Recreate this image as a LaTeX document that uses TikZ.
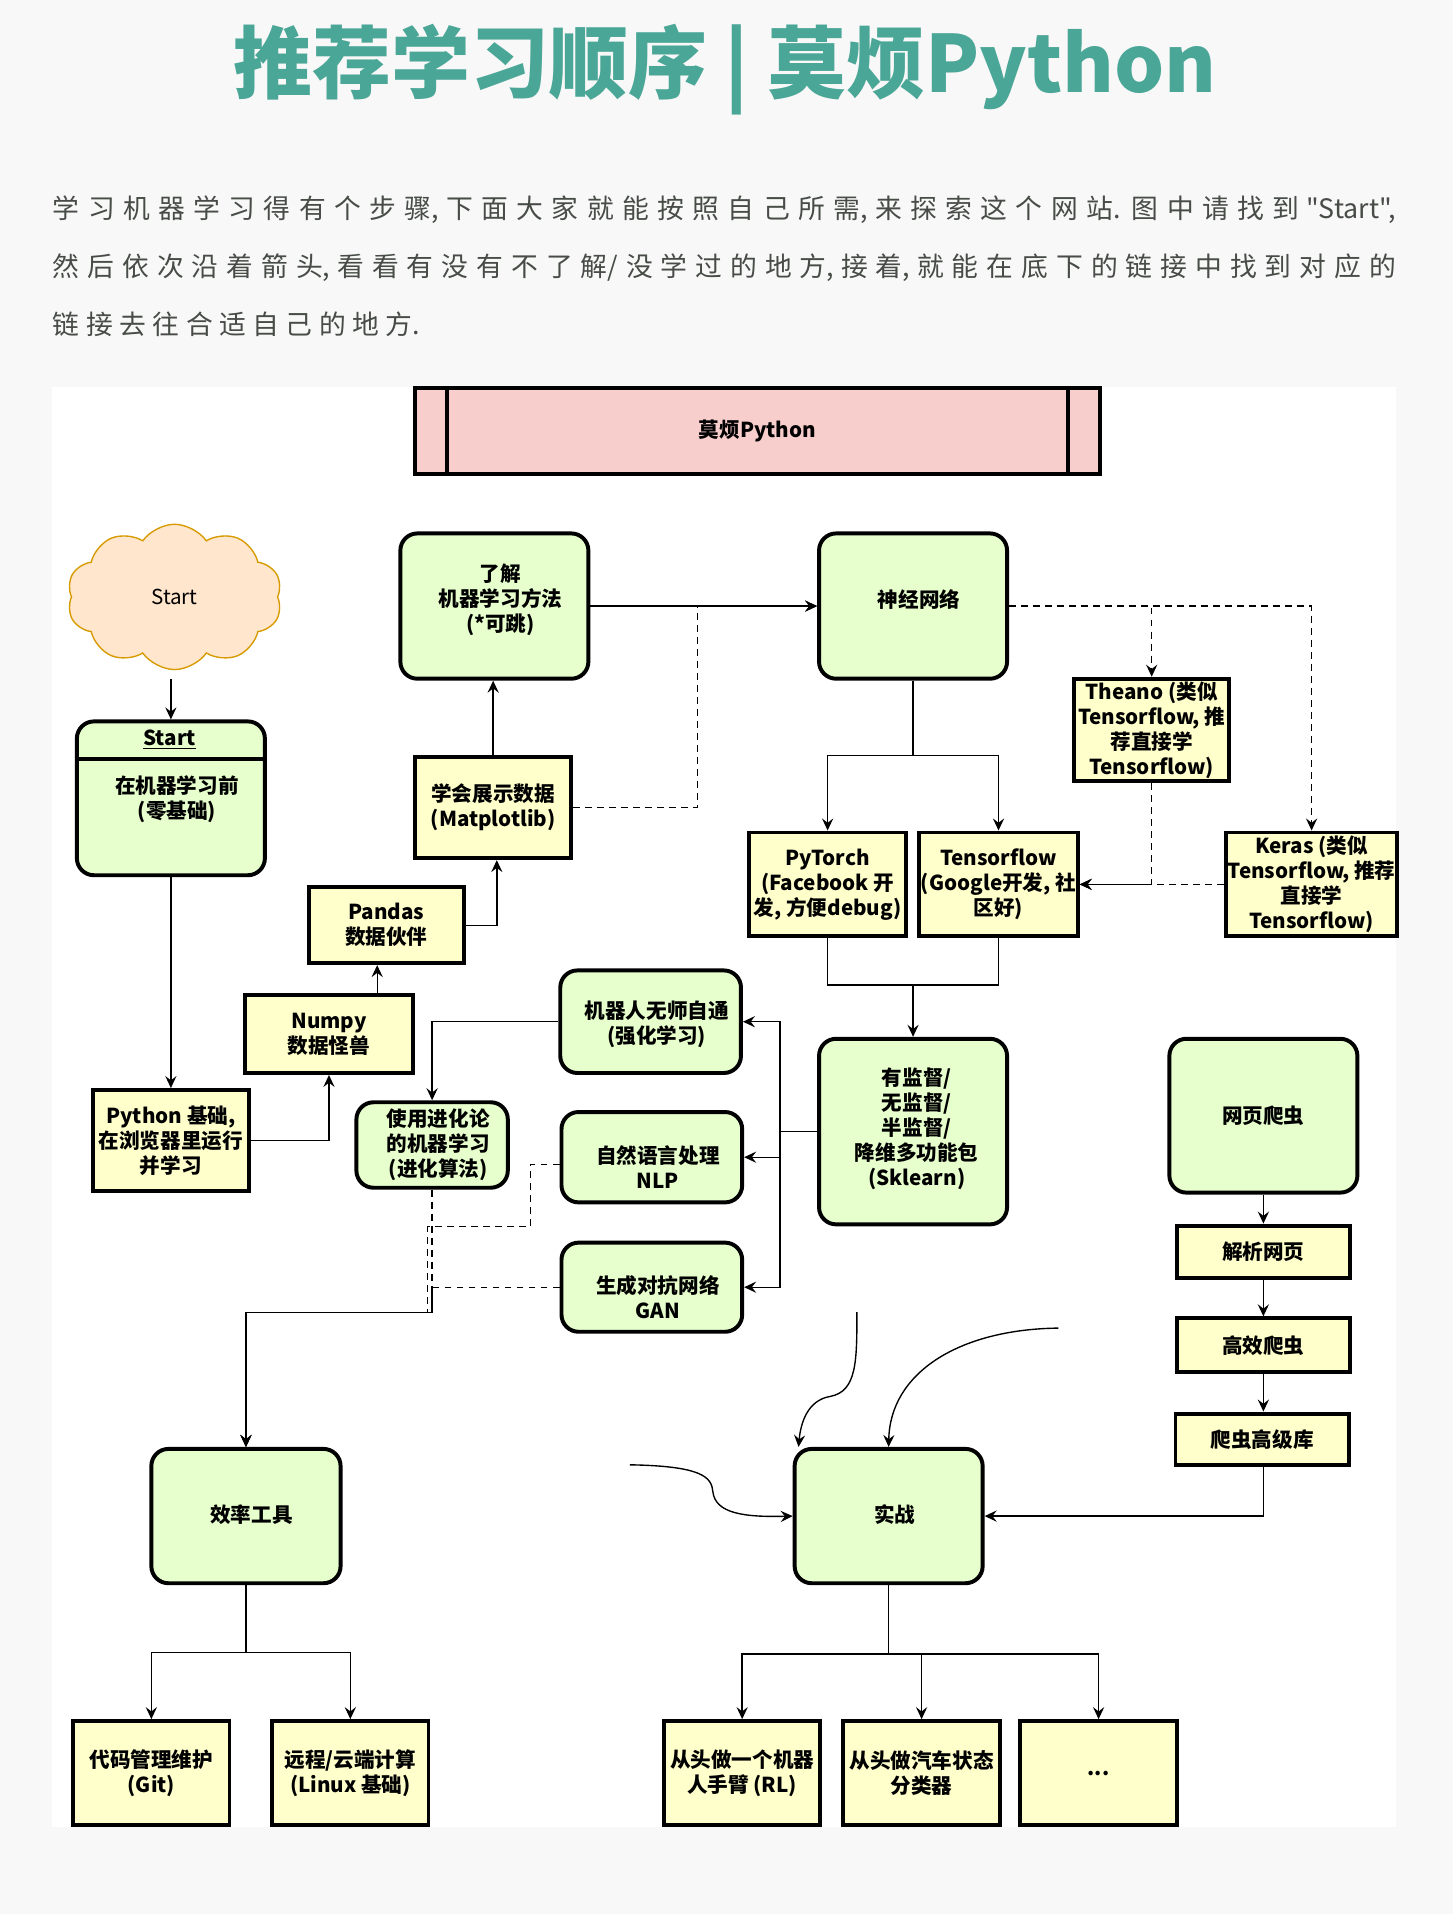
\documentclass[tikz,border=0pt]{standalone}
\usepackage{fontspec}
\setmainfont{Noto Sans CJK SC}
\newfontfamily\parafont{Noto Sans CJK SC}
\XeTeXlinebreaklocale "zh"
\XeTeXlinebreakskip=0pt plus 2pt
\usetikzlibrary{shapes.symbols,arrows.meta,calc}
\definecolor{gfill}{HTML}{E6FFCC}
\definecolor{yfill}{HTML}{FFFFCC}
\definecolor{pfill}{HTML}{F8CECC}
\definecolor{cfill}{HTML}{FFE6CC}
\definecolor{cdraw}{HTML}{D79B00}
\definecolor{ttl}{HTML}{4AA696}
\definecolor{ptext}{HTML}{474C47}
\definecolor{pagebg}{HTML}{F8F8F8}
\begin{document}
\begin{tikzpicture}[x=0.025cm,y=-0.025cm,
 lbl/.style={font=\fontsize{12pt}{14.6pt}\selectfont\bfseries, align=center, inner sep=1pt},
 gbox/.style={lbl, draw=black, line width=2.3pt, fill=gfill, rounded corners=0.35cm},
 ybox/.style={lbl, draw=black, line width=2.3pt, fill=yfill},
 conn/.style={line width=0.8pt},
 arr/.style={conn, -{Stealth[length=7pt,width=6.5pt,inset=2.5pt]}},
 dconn/.style={conn, dash pattern=on 4pt off 3pt},
 darr/.style={arr, dash pattern=on 4pt off 3pt},
 para/.style={font={\parafont\fontsize{15.6pt}{20pt}\selectfont\XeTeXlinebreakskip=3.8pt plus 3pt\relax}, text=ptext, anchor=west, inner sep=0pt, text width=27.5cm, align=justify}
]
\useasboundingbox (0,0) rectangle (1190,1568);
\fill[pagebg] (0,0) rectangle (1190,1568);
\fill[white] (43,317) rectangle (1144,1497);

% title and intro
\node[font=\fontsize{46pt}{50pt}\selectfont\bfseries, text=ttl] (title) at (594,57) {推荐学习顺序 | 莫烦Python};
\node[para] (p1) at (43,172) {\noindent\parfillskip=0pt 学习机器学习得有个步骤, 下面大家就能按照自己所需, 来探索这个网站. 图中请找到 "Start",\par};
\node[para] (p2) at (43,219) {\noindent\parfillskip=0pt 然后依次沿着箭头, 看看有没有不了解/没学过的地方, 接着, 就能在底下的链接中找到对应的\par};
\node[para] (p3) at (43,266) {\noindent 链接去往合适自己的地方.\par};

% banner
\node[lbl, draw=black, line width=2.3pt, fill=pfill, minimum width=14.025cm, minimum height=1.75cm] (banner) at (620.5,353) {莫烦Python};
\draw[line width=2.3pt] ([xshift=0.7cm]banner.north west) -- ([xshift=0.7cm]banner.south west);
\draw[line width=2.3pt] ([xshift=-0.7cm]banner.north east) -- ([xshift=-0.7cm]banner.south east);

% start
\node[cloud, cloud puffs=10, cloud puff arc=110, cloud ignores aspect, draw=cdraw, fill=cfill, line width=0.8pt, minimum width=4.4cm, minimum height=2.975cm, font=\fontsize{12pt}{14pt}\selectfont, inner sep=0pt] (cloud) at (143,489) {Start};
\node[gbox, minimum width=3.85cm, minimum height=3.15cm] (startbox) at (140,654) {};
\draw[line width=2.3pt] (startbox.west |- 0,622) -- (startbox.east |- 0,622);
\node[lbl] (starthead) at (139,606) {\underline{Start}};
\node[lbl] (startbody) at (145,655) {在机器学习前\\(零基础)};

% python chain
\node[ybox, minimum width=3.2cm, minimum height=2.075cm] (py) at (140,934.5) {Python 基础,\\在浏览器里运行\\并学习};
\node[ybox, minimum width=3.425cm, minimum height=1.6cm] (numpy) at (269.5,847) {Numpy\\数据怪兽};
\node[ybox, minimum width=3.175cm, minimum height=1.55cm] (pandas) at (316.5,758) {Pandas\\数据伙伴};
\node[ybox, minimum width=3.2cm, minimum height=2.075cm] (mpl) at (404,661.5) {学会展示数据\\(Matplotlib)};
\node[gbox, minimum width=3.85cm, minimum height=2.975cm] (ml) at (405,496.5) {};
\node[lbl] (mlt) at (410,491) {了解\\机器学习方法\\(*可跳)};

% neural nets
\node[gbox, minimum width=3.85cm, minimum height=2.975cm] (nn) at (748,496.5) {};
\node[lbl] (nnt) at (753,491) {神经网络};
\node[ybox, minimum width=3.175cm, minimum height=2.1cm] (theano) at (943.5,598) {Theano (类似\\Tensorflow, 推\\荐直接学\\Tensorflow)};
\node[ybox, minimum width=3.425cm, minimum height=2.125cm] (keras) at (1074.5,724.5) {Keras (类似\\Tensorflow, 推荐\\直接学\\Tensorflow)};
\node[ybox, minimum width=3.2cm, minimum height=2.125cm] (torch) at (678,724.5) {PyTorch\\(Facebook 开\\发, 方便debug)};
\node[ybox, minimum width=3.2cm, minimum height=2.125cm] (tf) at (818,724.5) {Tensorflow\\(Google开发, 社\\区好)};
\node[gbox, minimum width=3.85cm, minimum height=3.8cm] (skl) at (748,927) {};
\node[lbl] (sklt) at (751,925) {有监督/\\无监督/\\半监督/\\降维多功能包\\(Sklearn)};

% branches
\node[gbox, minimum width=3.7cm, minimum height=2.1cm] (rl) at (533,837) {};
\node[lbl] (rlt) at (538,839) {机器人无师自通\\(强化学习)};
\node[gbox, minimum width=3.7cm, minimum height=1.85cm] (nlp) at (534,948) {};
\node[lbl] (nlpt) at (539,956) {自然语言处理\\NLP};
\node[gbox, minimum width=3.7cm, minimum height=1.825cm] (gan) at (534,1054.5) {};
\node[lbl] (gant) at (539,1063) {生成对抗网络\\GAN};
\node[gbox, minimum width=3.1cm, minimum height=1.75cm] (evo) at (354,938) {};
\node[lbl] (evot) at (359,938) {使用进化论\\的机器学习\\(进化算法)};

% tools
\node[gbox, minimum width=3.875cm, minimum height=2.75cm] (tools) at (201.5,1242) {};
\node[lbl] (toolst) at (206,1241) {效率工具};
\node[ybox, minimum width=3.2cm, minimum height=2.125cm] (git) at (124,1452.5) {代码管理维护\\(Git)};
\node[ybox, minimum width=3.2cm, minimum height=2.125cm] (linux) at (287,1452.5) {远程/云端计算\\(Linux 基础)};

% practice
\node[gbox, minimum width=3.85cm, minimum height=2.75cm] (prac) at (728,1242) {};
\node[lbl] (pract) at (733,1241) {实战};
\node[ybox, minimum width=3.2cm, minimum height=2.125cm] (arm) at (608,1452.5) {从头做一个机器\\人手臂 (RL)};
\node[ybox, minimum width=3.2cm, minimum height=2.125cm] (car) at (755,1452.5) {从头做汽车状态\\分类器};
\node[ybox, minimum width=3.2cm, minimum height=2.125cm] (more) at (900,1452.5) {...};

% spider
\node[gbox, minimum width=3.85cm, minimum height=3.15cm] (spider) at (1035,914) {网页爬虫};
\node[ybox, minimum width=3.55cm, minimum height=1.075cm] (parse) at (1035,1025.5) {解析网页};
\node[ybox, minimum width=3.55cm, minimum height=1.1cm] (eff) at (1035,1102) {高效爬虫};
\node[ybox, minimum width=3.55cm, minimum height=1.05cm] (adv) at (1034,1179) {爬虫高级库};

% ---------- connectors
\draw[arr] ($(startbox.north |- cloud.south)+(0,7)$) -- (startbox.north);
\draw[arr] (startbox.south) -- (py.north);
\draw[arr] (py.east) -| (numpy.south);
\draw[arr] (numpy.north -| 309,0) -- (pandas.south -| 309,0);
\draw[arr] (pandas.east) -| ([xshift=0.075cm]mpl.south);
\draw[arr] (mpl.north) -- (mpl.north |- ml.south);
\draw[arr] (ml.east) -- (nn.west);
\draw[darr] (mpl.east) -- ++(102,0) |- (nn.west);
\draw[darr] (nn.east) -| (theano.north);
\draw[darr] (nn.east) -| (keras.north);
\draw[darr] (theano.south) |- (tf.east);
\draw[darr] (keras.west) -- (tf.east);
\coordinate (nnsplit) at (748,619);
\draw[conn] (nn.south) -- (nnsplit);
\draw[arr] (nnsplit) -| (torch.north);
\draw[arr] (nnsplit) -| (tf.north);
\coordinate (fwjoin) at (748,807);
\draw[conn] (torch.south) |- (fwjoin);
\draw[conn] (tf.south) |- (fwjoin);
\draw[arr] (fwjoin) -- (skl.north);
\coordinate (sklsplit) at (639,927);
\draw[conn] (skl.west) -- (sklsplit);
\draw[arr] (sklsplit) |- (rl.east);
\draw[arr] (sklsplit) |- (nlp.east);
\draw[arr] (sklsplit) |- (gan.east);
\draw[arr] (rl.west) -| (evo.north);
\coordinate (djoin) at (354,1075);
\draw[darr] (evo.south) -- (djoin) -| (tools.north);
\draw[darr] ([yshift=-0.15cm]nlp.west) -- ++(-24,0) -- ++(0,51) -- ++(-84,0) |- (djoin) -| (tools.north);
\draw[darr] (gan.west) -| (djoin) -| (tools.north);
\coordinate (toolsplit) at (201.5,1354);
\draw[conn] (tools.south) -- (toolsplit);
\draw[arr] (toolsplit) -| (git.north);
\draw[arr] (toolsplit) -| (linux.north);
\coordinate (pracsplit) at (728,1355);
\draw[conn] (prac.south) -- (pracsplit);
\draw[arr] (pracsplit) -| (arm.north);
\draw[arr] (pracsplit) -| (car.north);
\draw[arr] (pracsplit) -| (more.north);
\draw[arr] (spider.south) -- (parse.north);
\draw[arr] (parse.south) -- (eff.north);
\draw[arr] (eff.south) -- (eff.south |- adv.north);
\draw[arr] (adv.south -| 1035,0) |- (prac.east);
\coordinate (ca) at (702,1075);
\coordinate (cb) at (867,1088);
\coordinate (cc) at (516,1200);
\draw[arr] (ca) .. controls (702,1115) and (702,1140) .. (680,1144) .. controls (662,1147) and (656,1165) .. ([xshift=0.12cm]prac.north west);
\draw[arr] (cb) .. controls (785,1089) and (729,1125) .. (prac.north);
\draw[arr] (cc) .. controls (575,1201) and (583,1210) .. (584,1222) .. controls (586,1240) and (610,1243) .. (prac.west);
\end{tikzpicture}
\end{document}
